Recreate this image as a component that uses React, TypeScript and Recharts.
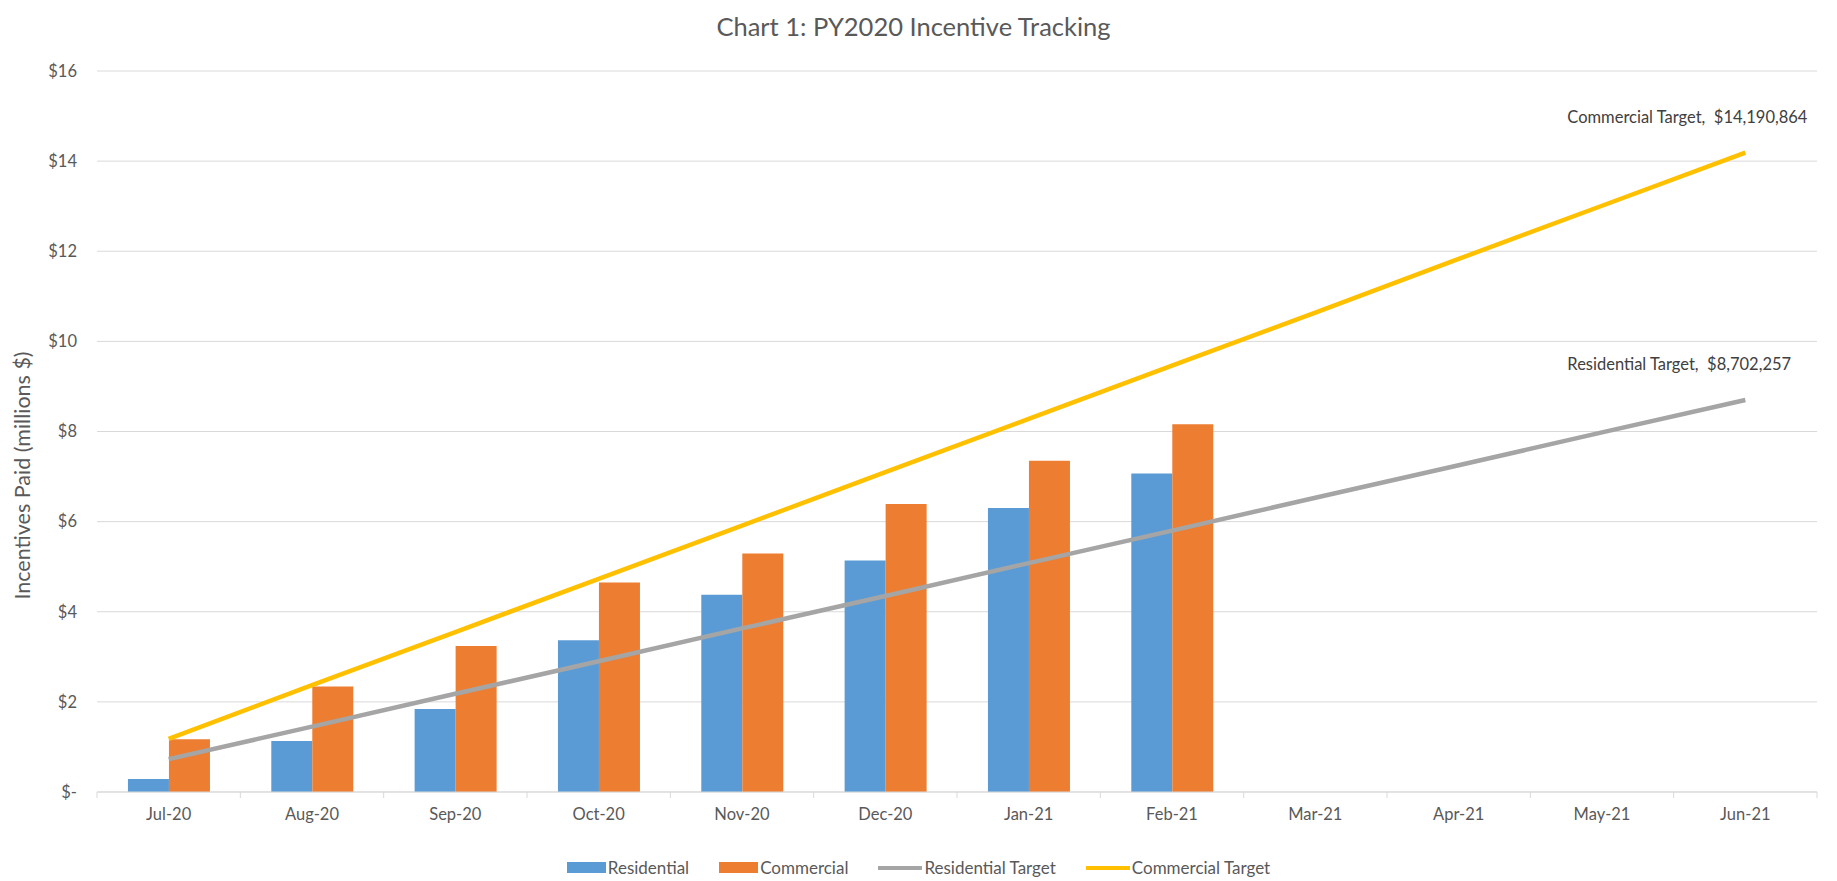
import React from 'react';
import {
  ComposedChart,
  Bar,
  Line,
  XAxis,
  YAxis,
  CartesianGrid,
  Legend,
  LabelList,
} from 'recharts';

// ---------- data ----------
const months = ['Jul-20', 'Aug-20', 'Sep-20', 'Oct-20', 'Nov-20', 'Dec-20', 'Jan-21', 'Feb-21', 'Mar-21', 'Apr-21', 'May-21', 'Jun-21'];
const residential = [0.29, 1.13, 1.84, 3.37, 4.38, 5.14, 6.30, 7.07, null, null, null, null];
const commercial = [1.17, 2.34, 3.24, 4.65, 5.29, 6.39, 7.35, 8.16, null, null, null, null];
const residentialTarget = [0.73, 1.45, 2.18, 2.90, 3.63, 4.35, 5.08, 5.80, 6.53, 7.25, 7.98, 8.70];
const commercialTarget = [1.18, 2.37, 3.55, 4.73, 5.91, 7.10, 8.28, 9.46, 10.64, 11.83, 13.01, 14.19];
const yTicks = [0, 2, 4, 6, 8, 10, 12, 14, 16];
const seriesOrder = ['residential', 'commercial', 'residentialTarget', 'commercialTarget'];
const residentialTargetLabel = 'Residential Target,  $8,702,257';
const commercialTargetLabel = 'Commercial Target,  $14,190,864';
const title = 'Chart 1: PY2020 Incentive Tracking';
const yAxisTitle = 'Incentives Paid (millions $)';

const data = months.map((m, i) => ({
  month: m,
  residential: residential[i],
  commercial: commercial[i],
  residentialTarget: residentialTarget[i],
  commercialTarget: commercialTarget[i],
}));

// ---------- styles ----------
const FONT = 'Lato, "Noto Sans", sans-serif';
const TEXT = '#595959';
const GRID = '#d9d9d9';
const C_RES = '#5B9BD5';
const C_COM = '#ED7D31';
const C_RES_T = '#A5A5A5';
const C_COM_T = '#FFC000';

const fmtY = (v: number) => (v === 0 ? '$-' : `$${v}`);

function XTick(props: any) {
  const { x, y, payload, index } = props;
  const half = payload && payload.offset != null ? payload.offset : 0;
  return (
    <g>
      <line x1={x - half} x2={x - half} y1={y} y2={y + 6} stroke={GRID} />
      {index === months.length - 1 && (
        <line x1={x + half} x2={x + half} y1={y} y2={y + 6} stroke={GRID} />
      )}
      <text x={x} y={y + 28} textAnchor="middle" fill={TEXT} fontSize={16.5} fontFamily={FONT}>
        {payload.value}
      </text>
    </g>
  );
}

const makeEndLabel = (text: string) => (p: any) => {
  const { x, y, index } = p;
  if (index !== months.length - 1) return null;
  return (
    <text
      x={x - 178}
      y={y - 30}
      textAnchor="start"
      fill="#404040"
      fontSize={16.5}
      fontFamily={FONT}
      style={{ whiteSpace: 'pre' }}
    >
      {text}
    </text>
  );
};

const YTitle = (p: any) => {
  const vb = p.viewBox || { x: 0, y: 71, width: 97, height: 721 };
  const cx = vb.x + 22;
  const cy = vb.y + vb.height / 2 + 44;
  return (
    <text
      x={cx}
      y={cy}
      transform={`rotate(-90 ${cx} ${cy})`}
      textAnchor="middle"
      dominantBaseline="central"
      fill={TEXT}
      fontSize={21.5}
      fontFamily={FONT}
    >
      {yAxisTitle}
    </text>
  );
};

const legendKinds: Record<string, 'rect' | 'line'> = {
  residential: 'rect',
  commercial: 'rect',
  residentialTarget: 'line',
  commercialTarget: 'line',
};

const LegendContent = (props: any) => {
  const items = [...(props.payload || [])].sort(
    (a: any, b: any) => seriesOrder.indexOf(a.dataKey) - seriesOrder.indexOf(b.dataKey)
  );
  return (
    <div
      style={{
        display: 'flex',
        justifyContent: 'center',
        alignItems: 'center',
        fontFamily: FONT,
        fontSize: 17,
        color: TEXT,
      }}
    >
      {items.map((it: any, i: number) => {
        const kind = legendKinds[it.dataKey] || 'rect';
        return (
          <div key={i} style={{ display: 'flex', alignItems: 'center', marginLeft: i ? 30 : 0 }}>
            {kind === 'rect' ? (
              <span style={{ display: 'inline-block', width: 39, height: 11, background: it.color }} />
            ) : (
              <span style={{ display: 'inline-block', width: 44, height: 4, background: it.color }} />
            )}
            <span style={{ marginLeft: 2, whiteSpace: 'pre' }}>{it.value}</span>
          </div>
        );
      })}
    </div>
  );
};

export default function App() {
  return (
    <div style={{ position: 'absolute', left: 0, top: 0, width: 1837, height: 881, background: '#fff' }}>
      <div
        style={{
          position: 'absolute',
          left: 0,
          top: 11,
          width: 1827,
          textAlign: 'center',
          fontFamily: FONT,
          fontSize: 25.5,
          lineHeight: '30px',
          color: TEXT,
          zIndex: 2,
        }}
      >
        {title}
      </div>
      <ComposedChart
        width={1837}
        height={881}
        data={data}
        margin={{ top: 71, right: 20, left: 0, bottom: 59 }}
        barCategoryGap="21.6%"
        barGap={0}
      >
        <CartesianGrid vertical={false} stroke={GRID} strokeWidth={1} />
        <XAxis
          dataKey="month"
          height={30}
          axisLine={{ stroke: GRID }}
          tickLine={false}
          tickSize={0}
          tickMargin={0}
          interval={0}
          tick={<XTick />}
        />
        <YAxis
          width={97}
          domain={[0, 16]}
          ticks={yTicks}
          interval={0}
          tickFormatter={fmtY}
          axisLine={false}
          tickLine={false}
          tickSize={0}
          tickMargin={20}
          tick={{ fill: TEXT, fontSize: 16.5, fontFamily: FONT }}
          label={{ content: YTitle }}
        />
        <Legend
          layout="horizontal"
          verticalAlign="middle"
          align="center"
          wrapperStyle={{ top: 857, left: 0, width: 1837 }}
          content={LegendContent}
        />
        <Bar dataKey="residential" name="Residential" fill={C_RES} isAnimationActive={false} />
        <Bar dataKey="commercial" name="Commercial" fill={C_COM} isAnimationActive={false} />
        <Line
          dataKey="residentialTarget"
          name="Residential Target"
          stroke={C_RES_T}
          strokeWidth={4.5}
          dot={false}
          activeDot={false}
          isAnimationActive={false}
        >
          <LabelList dataKey="residentialTarget" content={makeEndLabel(residentialTargetLabel)} />
        </Line>
        <Line
          dataKey="commercialTarget"
          name="Commercial Target"
          stroke={C_COM_T}
          strokeWidth={4.5}
          dot={false}
          activeDot={false}
          isAnimationActive={false}
        >
          <LabelList dataKey="commercialTarget" content={makeEndLabel(commercialTargetLabel)} />
        </Line>
      </ComposedChart>
    </div>
  );
}
